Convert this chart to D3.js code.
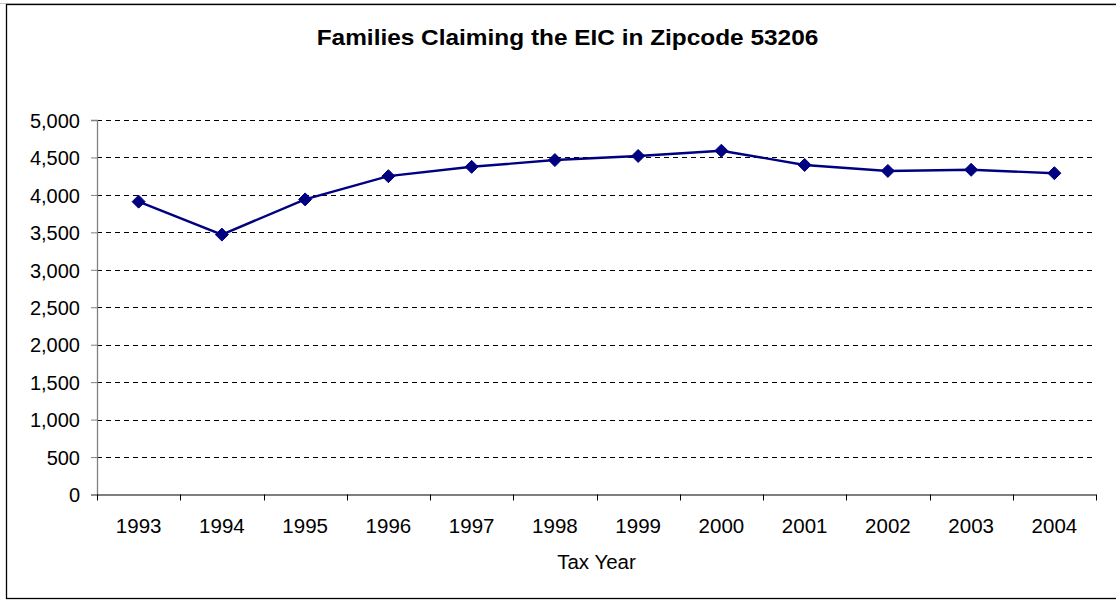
<!DOCTYPE html>
<html>
<head>
<meta charset="utf-8">
<script src="https://cdn.jsdelivr.net/npm/d3@7"></script>
<style>
  html, body { margin: 0; padding: 0; background: #fff; }
  svg { display: block; font-family: "Liberation Sans", Arial, sans-serif; }
</style>
</head>
<body>
<svg id="chart" width="1116" height="600"></svg>
<script>
const title = "Families Claiming the EIC in Zipcode 53206";
const xAxisTitle = "Tax Year";
const years = ["1993","1994","1995","1996","1997","1998","1999","2000","2001","2002","2003","2004"];
const families = [3910, 3470, 3940, 4250, 4375, 4465, 4520, 4590, 4400, 4320, 4335, 4290];
const yTicks = [0, 500, 1000, 1500, 2000, 2500, 3000, 3500, 4000, 4500, 5000];

const svg = d3.select("#chart");
const W = 1116, H = 600;
const plot = { left: 97, right: 1096, top: 120, bottom: 494.5 };
const FONT = "'Liberation Sans', Arial, sans-serif";

// outer frame
svg.append("line").attr("x1", 0).attr("x2", W).attr("y1", 3.5).attr("y2", 3.5)
  .attr("stroke", "#c8c8c8").attr("stroke-width", 1);
svg.append("rect").attr("x", 6.5).attr("y", 4.5).attr("width", W + 10).attr("height", 594)
  .attr("fill", "#fff").attr("stroke", "#000").attr("stroke-width", 1.3);

const x = d3.scaleBand().domain(years).range([plot.left, plot.right]).padding(0);
const y = d3.scaleLinear().domain([0, 5000]).range([plot.bottom, plot.top]);

// gridlines
svg.append("g").selectAll("line").data(yTicks.filter(d => d > 0)).join("line")
  .attr("x1", plot.left).attr("x2", plot.right)
  .attr("y1", d => Math.round(y(d)) + 0.5).attr("y2", d => Math.round(y(d)) + 0.5)
  .attr("stroke", "#000").attr("stroke-width", 1).attr("stroke-dasharray", "5,4");

// y axis
const yAxis = d3.axisLeft(y).tickValues(yTicks).tickSize(6).tickPadding(11)
  .tickFormat(d3.format(","));
const gy = svg.append("g").attr("transform", `translate(${plot.left},0)`).call(yAxis);
gy.select(".domain").attr("stroke", "#808080").attr("stroke-width", 1.3);
gy.selectAll(".tick line").attr("stroke", "#808080");
gy.selectAll("text").attr("font-size", 20).attr("fill", "#000")
  .attr("font-family", FONT).attr("dy", "0.36em");

// x axis
const xAxis = d3.axisBottom(x).tickSize(0).tickPadding(0);
const gx = svg.append("g").attr("transform", `translate(0,${plot.bottom})`).call(xAxis);
gx.select(".domain").attr("stroke", "#000").attr("stroke-width", 1.2);
gx.selectAll("text").attr("font-size", 20.5).attr("fill", "#000").attr("dy", null)
  .attr("y", 38).attr("font-family", FONT);
// boundary ticks
const bounds = years.map(d => x(d)).concat([x(years[years.length - 1]) + x.bandwidth()]);
gx.append("g").selectAll("line").data(bounds).join("line")
  .attr("x1", d => Math.round(d) + 0.5).attr("x2", d => Math.round(d) + 0.5)
  .attr("y1", 0).attr("y2", 6).attr("stroke", "#000").attr("stroke-width", 1);

// line
const cx = d => x(d) + x.bandwidth() / 2;
const line = d3.line().x((d, i) => cx(years[i])).y(d => y(d));
svg.append("path").datum(families).attr("d", line)
  .attr("fill", "none").attr("stroke", "#000080").attr("stroke-width", 2.4);

// markers
const r = 6.5;
svg.append("g").selectAll("path").data(families).join("path")
  .attr("d", (d, i) => {
    const px = cx(years[i]), py = y(d);
    return `M${px},${py - r}L${px + r},${py}L${px},${py + r}L${px - r},${py}Z`;
  })
  .attr("fill", "#000080").attr("stroke", "#000080").attr("stroke-width", 1);

// titles
svg.append("text").attr("transform", "translate(567.5,45) scale(1.12,1)")
  .attr("text-anchor", "middle").attr("font-family", FONT)
  .attr("font-size", 21.8).attr("font-weight", "bold").attr("fill", "#000").text(title);
svg.append("text").attr("x", 596.5).attr("y", 569).attr("text-anchor", "middle")
  .attr("font-family", FONT).attr("font-size", 20.5).attr("fill", "#000").text(xAxisTitle);
</script>
</body>
</html>
